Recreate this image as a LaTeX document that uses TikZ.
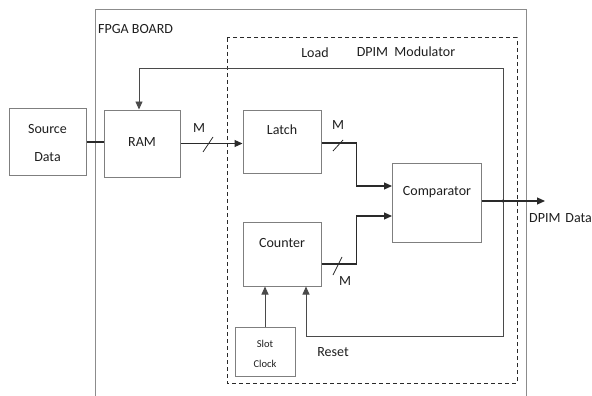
\documentclass[tikz,border=0pt]{standalone}
\usepackage{fontspec}
\setmainfont{Carlito}
\usetikzlibrary{arrows.meta}
\definecolor{boxgray}{HTML}{7F7F7F}
\definecolor{boardgray}{HTML}{8C8C8C}
\definecolor{linedark}{HTML}{2A2A2A}
\definecolor{loopgray}{HTML}{4A4A4A}
\begin{document}
\begin{tikzpicture}[x=1pt,y=-1pt,
  box/.style={draw=boxgray, line width=1pt, inner sep=0pt},
  conn/.style={draw=linedark, line width=1.2pt},
  arr/.style={conn, -{Triangle[length=8pt,width=7pt]}},
  looparr/.style={draw=loopgray, line width=0.9pt, -{Triangle[length=8pt,width=7pt]}},
  slash/.style={draw=linedark, line width=0.8pt},
  lbl/.style={font=\fontsize{14}{15}\selectfont, inner sep=0pt, text=black!88},
  small/.style={font=\fontsize{10.5}{20}\selectfont, inner sep=0pt, align=center, text=black!88}]
\useasboundingbox (0,0) rectangle (592,396);
\fill[white] (0,0) rectangle (592,396);
% FPGA board frame
\draw[boardgray, line width=1pt] (95,400) -- (95,10) -- (526,10) -- (526,400);
% DPIM modulator dashed frame
\draw[linedark, line width=1pt, dash pattern=on 4pt off 3pt] (227,38) rectangle (517,383);
% boxes
\node[box, minimum width=77pt, minimum height=67pt] (src) at (47.5,142) {};
\node[box, minimum width=76pt, minimum height=67pt] (ram) at (142,143.5) {};
\node[box, minimum width=78pt, minimum height=63pt] (latch) at (282,141.5) {};
\node[box, minimum width=89pt, minimum height=79pt] (comp) at (436.5,202.5) {};
\node[box, minimum width=78pt, minimum height=64pt] (counter) at (282,254) {};
\node[box, minimum width=60pt, minimum height=49pt] (slot) at (265,351.5) {};
% box texts
\node[lbl, align=center, font=\fontsize{14}{28}\selectfont] (srct) at (47.5,143) {Source\\Data};
\node[lbl] (ramt) at (142,142) {RAM};
\node[lbl] (latcht) at (282,130) {Latch};
\node[lbl] (compt) at (437,192) {Comparator};
\node[lbl] (countert) at (282,243) {Counter};
\node[small] (slott) at (265,354) {Slot\\Clock};
% labels
\node[lbl, anchor=west] (fpga) at (98,29) {FPGA BOARD};
\node[lbl] (load) at (315,53) {Load};
\node[lbl] (dpimmod) at (406,52) {DPIM\hspace{0.45em}Modulator};
\node[lbl, anchor=west] (dpimdata) at (529,218) {DPIM\hspace{0.35em}Data};
\node[lbl] (reset) at (333,352) {Reset};
\node[lbl] (m1) at (199,128) {M};
\node[lbl] (m2) at (338,125) {M};
\node[lbl] (m3) at (345,281) {M};
% coordinates
\coordinate (cin1) at (392,186);
\coordinate (cin2) at (392,216);
\coordinate (j) at (503,201);
\coordinate (out) at (545,201);
\coordinate (top) at (503,68);
\coordinate (bot) at (503,336);
% connectors
\draw[conn] (src.east) -- (src.east -| ram.west);
\draw[arr] (ram.east) -- (ram.east -| latch.west);
\draw[arr] ([yshift=-1.5pt]latch.east) -- ++(35,0) |- (cin1);
\draw[arr] ([yshift=-10pt]counter.east) -- ++(35,0) |- (cin2);
\draw[arr] (comp.east |- out) -- (out);
\draw[looparr] (j) -- (top) -| ([xshift=-3pt]ram.north);
\draw[looparr] (j) -- (bot) -| ([xshift=24pt]counter.south);
\draw[looparr] (slot.north) -- (slot.north |- counter.south);
\fill[linedark] (j) circle (1.6pt);
% bus slashes
\draw[slash] (203,152) -- (213,137);
\draw[slash] (333,151) -- (343,140);
\draw[slash] (333,275) -- (342,257);
\end{tikzpicture}
\end{document}
